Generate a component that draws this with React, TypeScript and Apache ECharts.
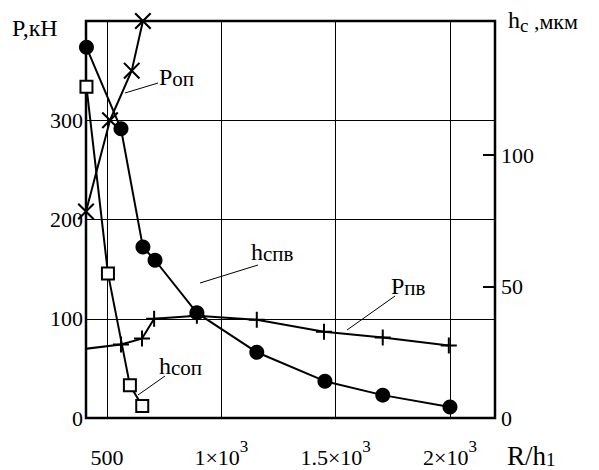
import React, { useEffect, useRef } from "react";
import * as echarts from "echarts";

// x axis (R/h1)
const xTickValues = [500, 1000, 1500, 2000];
const xTickBase = ["500", "1×10", "1.5×10", "2×10"];
const xTickExp = ["", "3", "3", "3"];
// left axis (P, kN)
const pTickValues = [0, 100, 200, 300];
// right axis (hc, um)
const hTickValues = [0, 50, 100];
const hTickMarks = [50, 100];

// series [R/h1, value]
const P_op: [number, number][] = [[408, 208], [513, 300], [608, 350], [657, 400]];
const h_sop: [number, number][] = [[410, 126], [504, 55], [600, 12.5], [654, 4.6]];
const h_spv: [number, number][] = [[410, 141], [561, 110], [657, 65], [710, 60], [893, 40], [1155, 25], [1453, 14], [1706, 8.7], [2000, 4.2]];
const P_pv: [number, number][] = [[380, 69], [561, 74], [653, 80], [706, 100], [893, 103], [1155, 99], [1449, 87], [1706, 81], [1995, 73]];

const FONT = "Liberation Serif";
const CROSS = "path://M0,1.4L1.4,0L16,14.6L14.6,16Z M14.6,0L16,1.4L1.4,16L0,14.6Z";
const PLUS = "path://M0,7H16V9H0Z M7,0H9V16H7Z";

export default function App() {
  const ref = useRef<HTMLDivElement>(null);
  useEffect(() => {
    if (!ref.current) return;
    const chart = echarts.init(ref.current, undefined, { renderer: "svg" });
    const lineStyle = { color: "#000", width: 2 };
    const label = (x: number, y: number, main: string, sub: string, mainSize = 24, subSize = 21) => ({
      type: "text",
      left: x,
      top: y,
      style: {
        text: `{m|${main}}{s|${sub}}`,
        rich: {
          m: { fontFamily: FONT, fontSize: mainSize, fill: "#000", verticalAlign: "bottom" },
          s: { fontFamily: FONT, fontSize: subSize, fill: "#000", verticalAlign: "bottom" },
        },
      },
    });
    chart.setOption({
      animation: false,
      backgroundColor: "#fff",
      grid: {
        left: 86,
        top: 21,
        right: 104,
        bottom: 52,
        show: true,
        borderColor: "#000",
        borderWidth: 2.5,
        backgroundColor: "transparent",
      },
      xAxis: {
        type: "value",
        min: 408,
        max: 2197,
        axisLine: { show: false },
        axisTick: { show: false, customValues: xTickValues },
        splitLine: { show: true, lineStyle: { color: "#000", width: 1 } },
        axisLabel: {
          customValues: xTickValues,
          margin: 20,
          formatter: (v: number) => {
            const i = xTickValues.indexOf(v);
            if (i < 0) return "";
            return xTickExp[i] ? `{n|${xTickBase[i]}}{s|${xTickExp[i]}}` : `{n|${xTickBase[i]}}`;
          },
          rich: {
            n: { fontFamily: FONT, fontSize: 22, color: "#000", lineHeight: 30, verticalAlign: "bottom" },
            s: { fontFamily: FONT, fontSize: 17, color: "#000", lineHeight: 30, verticalAlign: "top" },
          },
        },
      },
      yAxis: [
        {
          type: "value",
          min: 0,
          max: 400,
          interval: 100,
          axisLine: { show: false },
          axisTick: { show: false },
          splitLine: { show: true, lineStyle: { color: "#000", width: 1 } },
          axisLabel: {
            customValues: pTickValues,
            margin: 3,
            padding: [6, 0, 0, 0],
            fontFamily: FONT,
            fontSize: 22,
            color: "#000",
          },
        },
        {
          type: "value",
          min: 0,
          max: 151,
          interval: 50,
          position: "right",
          axisLine: { show: false },
          axisTick: { show: true, inside: true, length: 12, customValues: hTickMarks, lineStyle: { color: "#000", width: 2 } },
          splitLine: { show: false },
          axisLabel: {
            customValues: hTickValues,
            margin: 6,
            padding: [10, 0, 0, 0],
            fontFamily: FONT,
            fontSize: 22,
            color: "#000",
          },
        },
      ],
      series: [
        {
          type: "line",
          name: "Pоп",
          data: P_op,
          yAxisIndex: 0,
          symbol: CROSS,
          symbolSize: 17,
          itemStyle: { color: "#000" },
          lineStyle,
          clip: true,
          z: 3,
        },
        {
          type: "line",
          name: "hсоп",
          data: h_sop,
          yAxisIndex: 1,
          symbol: "rect",
          symbolSize: 12,
          itemStyle: { color: "#fff", borderColor: "#000", borderWidth: 2 },
          lineStyle,
          clip: true,
          z: 3,
        },
        {
          type: "line",
          name: "hспв",
          data: h_spv,
          yAxisIndex: 1,
          symbol: "circle",
          symbolSize: 15,
          itemStyle: { color: "#000" },
          lineStyle,
          clip: true,
          z: 3,
        },
        {
          type: "line",
          name: "Pпв",
          data: P_pv,
          yAxisIndex: 0,
          symbol: PLUS,
          symbolSize: 16,
          itemStyle: { color: "#000" },
          lineStyle,
          clip: true,
          z: 3,
        },
      ],
      graphic: [
        // axis titles
        label(12, 16, "P,кН", "", 24, 20),
        {
          type: "text",
          left: 508,
          top: 8,
          style: {
            text: "{m|h}{s|c}{t| ,мкм}",
            rich: {
              m: { fontFamily: FONT, fontSize: 24, fill: "#000", verticalAlign: "bottom", padding: [0, 0, 3, 0] },
              s: { fontFamily: FONT, fontSize: 19, fill: "#000", verticalAlign: "bottom" },
              t: { fontFamily: FONT, fontSize: 22, fill: "#000", verticalAlign: "bottom", padding: [0, 0, 3, 0] },
            },
          },
        },
        {
          type: "text",
          left: 507,
          top: 442,
          style: {
            text: "{m|R/h}{s|1}",
            rich: {
              m: { fontFamily: FONT, fontSize: 27, fill: "#000", verticalAlign: "bottom" },
              s: { fontFamily: FONT, fontSize: 19, fill: "#000", verticalAlign: "bottom" },
            },
          },
        },
        // series labels
        label(159, 65, "P", "оп"),
        label(251, 240, "h", "спв"),
        label(391, 274, "P", "пв"),
        label(159, 354, "h", "соп"),
        // leader lines
        { type: "line", shape: { x1: 125, y1: 93, x2: 158, y2: 83 }, style: { stroke: "#000", lineWidth: 1 } },
        { type: "line", shape: { x1: 200, y1: 283, x2: 258, y2: 265 }, style: { stroke: "#000", lineWidth: 1 } },
        { type: "line", shape: { x1: 347, y1: 330, x2: 395, y2: 296 }, style: { stroke: "#000", lineWidth: 1 } },
        { type: "line", shape: { x1: 138, y1: 395, x2: 165, y2: 376 }, style: { stroke: "#000", lineWidth: 1 } },
      ],
    });
    return () => chart.dispose();
  }, []);
  return (
    <div
      ref={ref}
      style={{ position: "absolute", left: 0, top: 0, width: 599, height: 470, background: "#fff" }}
    />
  );
}
